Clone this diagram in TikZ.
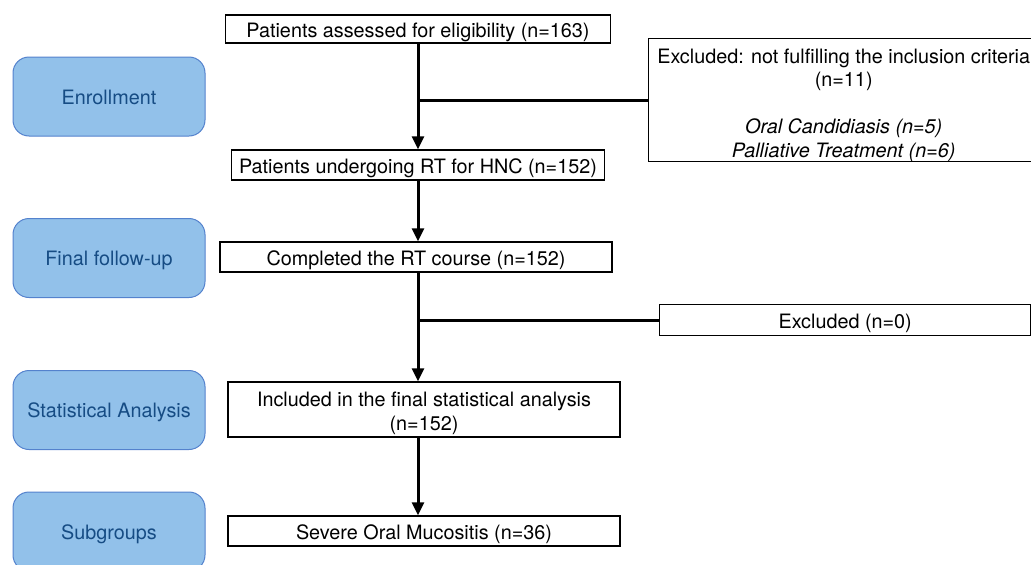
\documentclass[tikz,border=0pt]{standalone}
\usepackage{fontspec}
\setmainfont{TeX Gyre Heros}
\usetikzlibrary{arrows.meta}
\definecolor{phfill}{RGB}{146,193,234}
\definecolor{phdraw}{RGB}{84,130,205}
\definecolor{phtext}{RGB}{22,76,132}
\newcommand{\lowerby}[1]{\rule{0pt}{#1}}
\begin{document}
\begin{tikzpicture}[x=1pt,y=-1pt,
  txt/.style={font=\fontsize{19.8}{23.5}\selectfont},
  oneline/.style={text height=18.5pt,text depth=2pt},
  phase/.style={txt,draw=phdraw,fill=phfill,rounded corners=16pt,line width=1pt,
    minimum width=192pt,minimum height=79pt,text=phtext,inner sep=0pt,
    text height=17pt,text depth=2pt},
  flowbox/.style={txt,draw=black,line width=1.4pt,fill=white,inner sep=0pt,align=center},
  arr/.style={line width=3pt,-{Triangle[width=12pt,length=13pt]}},
  ln/.style={line width=3pt}]
\useasboundingbox (0,0) rectangle (1031,565);
\clip (0,0) rectangle (1031,565);
% phase labels
\node[phase] (enr) at (109,96.5) {Enrollment};
\node[phase] (ffu) at (109,258) {Final follow-up};
\node[phase] (sta) at (109,410) {Statistical Analysis};
\node[phase] (sub) at (109,531.5) {Subgroups};
% main flow
\node[flowbox,oneline,minimum width=385pt,minimum height=28pt] (b1) at (418,29) {Patients assessed for eligibility (n=163)};
\node[flowbox,oneline,minimum width=373pt,minimum height=30pt] (b2) at (418,165) {Patients undergoing RT for HNC (n=152)};
\node[flowbox,oneline,minimum width=392pt,minimum height=30pt] (b3) at (416,257) {Completed the RT course (n=152)};
\node[flowbox,minimum width=392pt,minimum height=55pt] (b4) at (424,409.5) {\lowerby{22.6pt}Included in the final statistical analysis\\(n=152)};
\node[flowbox,oneline,minimum width=392pt,minimum height=30pt] (b5) at (424,531) {Severe Oral Mucositis (n=36)};
% exclusion boxes
\node[flowbox,anchor=west,minimum width=390pt,minimum height=123pt] (ex1) at (648,100)
  {\lowerby{24.6pt}Excluded: not fulfilling the inclusion criteria\\(n=11)\\[23.5pt]\textit{Oral Candidiasis (n=5)}\\\textit{Palliative Treatment (n=6)}};
\node[flowbox,oneline,anchor=west,minimum width=371pt,minimum height=31pt] (ex2) at (659,320) {Excluded (n=0)};
% connectors
\draw[arr] (b1.south) -- (b1.south |- b2.north);
\draw[arr] (b2.south) -- (b2.south |- b3.north);
\draw[arr] (b2.south |- b3.south) -- (b2.south |- b4.north);
\draw[arr] (b2.south |- b4.south) -- (b2.south |- b5.north);
\coordinate (j1) at (b1.south |- ex1.west);
\coordinate (j2) at (b2.south |- ex2.west);
\draw[ln] (j1) -- (ex1.west);
\draw[ln] (j2) -- (ex2.west);
\end{tikzpicture}
\end{document}
